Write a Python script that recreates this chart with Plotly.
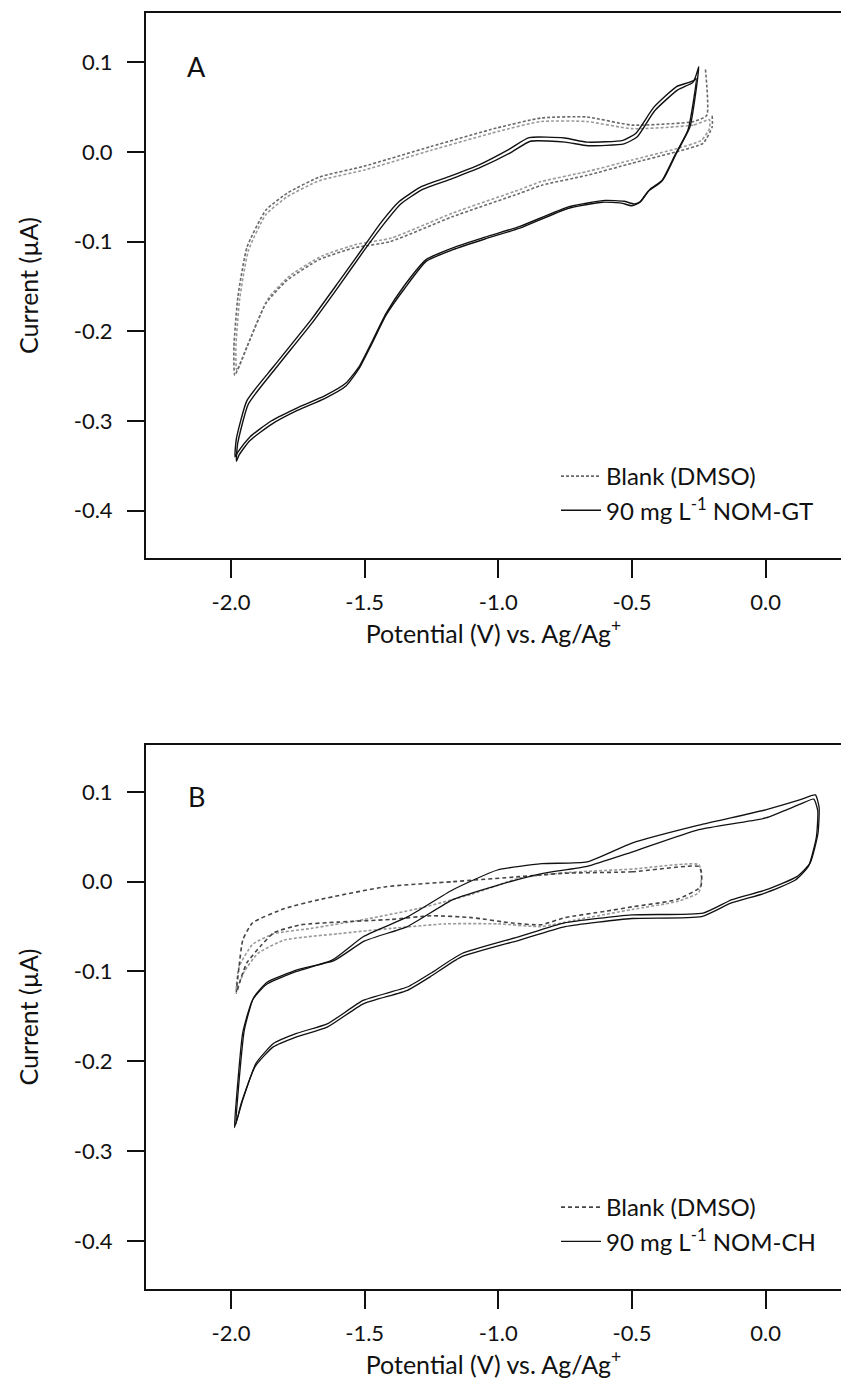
import plotly.graph_objects as go

# ---------------- data ----------------
# Panel A : NOM-GT (two cycles) and blank DMSO
A_gt_c1_V = [-0.25, -0.283, -0.333, -0.384, -0.434, -0.467, -0.49, -0.53, -0.60, -0.735, -0.919, -1.05, -1.17, -1.27,
             -1.354, -1.42, -1.47, -1.52, -1.571, -1.65, -1.75, -1.85, -1.93, -1.975, -1.985, -1.98, -1.94, -1.84,
             -1.70, -1.60, -1.504, -1.437, -1.37, -1.29, -1.18, -1.07, -0.96, -0.885, -0.752, -0.668, -0.534, -0.485,
             -0.418, -0.333, -0.268, -0.25]
A_gt_c1_I = [0.095, 0.028, -0.001, -0.031, -0.042, -0.055, -0.058, -0.055, -0.054, -0.061, -0.083, -0.095, -0.107,
             -0.12, -0.150, -0.180, -0.21, -0.239, -0.258, -0.272, -0.285, -0.30, -0.318, -0.335, -0.340, -0.320,
             -0.277, -0.239, -0.187, -0.146, -0.106, -0.078, -0.055, -0.039, -0.027, -0.014, 0.003, 0.016, 0.0156,
             0.011, 0.013, 0.021, 0.050, 0.073, 0.080, 0.095]
A_gt_c2_V = [-0.26, -0.29, -0.34, -0.39, -0.44, -0.47, -0.50, -0.54, -0.61, -0.74, -0.92, -1.05, -1.17, -1.27, -1.35,
             -1.42, -1.47, -1.52, -1.57, -1.65, -1.75, -1.85, -1.93, -1.97, -1.98, -1.975, -1.935, -1.835, -1.695,
             -1.595, -1.50, -1.43, -1.365, -1.285, -1.175, -1.065, -0.955, -0.88, -0.75, -0.665, -0.53, -0.48,
             -0.415, -0.33, -0.275, -0.26]
A_gt_c2_I = [0.082, 0.025, -0.004, -0.033, -0.044, -0.056, -0.060, -0.057, -0.056, -0.063, -0.085, -0.097, -0.109,
             -0.122, -0.152, -0.182, -0.212, -0.241, -0.261, -0.275, -0.288, -0.304, -0.322, -0.338, -0.345, -0.325,
             -0.281, -0.242, -0.190, -0.149, -0.109, -0.081, -0.058, -0.042, -0.030, -0.017, -0.001, 0.012, 0.011,
             0.007, 0.009, 0.017, 0.046, 0.069, 0.077, 0.082]

A_bl_c1_V = [-0.225, -0.22, -0.268, -0.50, -0.668, -0.837, -1.003, -1.253, -1.504, -1.67, -1.79, -1.87, -1.94, -1.974,
             -1.989, -1.986, -1.94, -1.87, -1.79, -1.67, -1.54, -1.405, -1.17, -0.919, -0.837, -0.668, -0.50, -0.333,
             -0.234, -0.20, -0.20]
A_bl_c1_I = [0.092, 0.041, 0.034, 0.030, 0.039, 0.038, 0.027, 0.006, -0.016, -0.028, -0.046, -0.065, -0.106, -0.161,
             -0.217, -0.249, -0.217, -0.169, -0.143, -0.120, -0.107, -0.100, -0.072, -0.046, -0.037, -0.026, -0.0126,
             0.0003, 0.0097, 0.028, 0.041]
A_bl_c2_V = [-0.21, -0.27, -0.50, -0.67, -0.84, -1.00, -1.25, -1.50, -1.67, -1.79, -1.87, -1.935, -1.968, -1.982,
             -1.978, -1.93, -1.86, -1.78, -1.66, -1.53, -1.40, -1.17, -0.92, -0.84, -0.67, -0.50, -0.33, -0.24, -0.21,
             -0.21]
A_bl_c2_I = [0.036, 0.030, 0.026, 0.034, 0.034, 0.023, 0.002, -0.020, -0.032, -0.050, -0.070, -0.110, -0.165, -0.220,
             -0.244, -0.210, -0.163, -0.138, -0.116, -0.103, -0.096, -0.068, -0.042, -0.033, -0.022, -0.009, 0.004,
             0.013, 0.026, 0.036]

# Panel B : NOM-CH (two cycles) and blank DMSO
B_ch_c1_V = [0.186, 0.20, 0.196, 0.167, 0.117, 0.0, -0.126, -0.234, -0.50, -0.752, -0.919, -1.136, -1.253, -1.338,
             -1.504, -1.638, -1.755, -1.84, -1.906, -1.956, -1.987, -1.98, -1.956, -1.92, -1.87, -1.755, -1.62, -1.504,
             -1.338, -1.17, -1.003, -0.837, -0.668, -0.50, -0.25, 0.0, 0.127, 0.186]
B_ch_c1_I = [0.0966, 0.083, 0.054, 0.021, 0.0056, -0.0092, -0.020, -0.035, -0.037, -0.046, -0.061, -0.080, -0.102,
             -0.117, -0.132, -0.158, -0.169, -0.180, -0.202, -0.243, -0.274, -0.243, -0.168, -0.132, -0.115, -0.100,
             -0.087, -0.061, -0.039, -0.009, 0.013, 0.020, 0.022, 0.043, 0.063, 0.080, 0.091, 0.0966]
B_ch_c2_V = [0.18, 0.195, 0.19, 0.16, 0.11, -0.005, -0.13, -0.24, -0.50, -0.75, -0.92, -1.14, -1.255, -1.34, -1.505,
             -1.64, -1.757, -1.842, -1.91, -1.962, -1.982, -1.975, -1.95, -1.915, -1.865, -1.75, -1.615, -1.50, -1.34,
             -1.17, -1.003, -0.837, -0.668, -0.50, -0.25, 0.0, 0.127, 0.18]
B_ch_c2_I = [0.092, 0.079, 0.050, 0.017, 0.0015, -0.013, -0.024, -0.039, -0.041, -0.050, -0.065, -0.084, -0.106,
             -0.121, -0.136, -0.162, -0.173, -0.184, -0.206, -0.247, -0.270, -0.240, -0.165, -0.129, -0.112, -0.098,
             -0.088, -0.066, -0.050, -0.020, -0.004, 0.009, 0.017, 0.033, 0.058, 0.071, 0.086, 0.092]

B_bl_c1_V = [-0.25, -0.50, -0.752, -0.919, -1.17, -1.42, -1.67, -1.80, -1.92, -1.956, -1.97, -1.98, -1.96, -1.94,
             -1.89, -1.84, -1.74, -1.60, -1.40, -1.25, -1.10, -0.95, -0.84, -0.75, -0.60, -0.50, -0.333, -0.243,
             -0.24, -0.25]
B_bl_c1_I = [0.017, 0.011, 0.0094, 0.0056, 0.0, -0.0056, -0.020, -0.030, -0.046, -0.065, -0.095, -0.124, -0.105,
             -0.090, -0.072, -0.057, -0.048, -0.045, -0.042, -0.038, -0.040, -0.046, -0.048, -0.040, -0.033, -0.028,
             -0.020, -0.0056, 0.010, 0.017]
B_bl_c2_V = [-0.25, -0.50, -0.75, -0.92, -1.10, -1.30, -1.50, -1.70, -1.84, -1.92, -1.97, -1.98, -1.95, -1.90, -1.80,
             -1.60, -1.40, -1.20, -1.00, -0.84, -0.70, -0.50, -0.33, -0.25, -0.24, -0.25]
B_bl_c2_I = [0.019, 0.014, 0.010, 0.004, -0.014, -0.030, -0.042, -0.052, -0.058, -0.070, -0.095, -0.120, -0.100,
             -0.080, -0.065, -0.058, -0.052, -0.047, -0.047, -0.050, -0.042, -0.031, -0.022, -0.012, 0.005, 0.019]

x_tickvals = [-2.0, -1.5, -1.0, -0.5, 0.0]
x_ticktext = ["-2.0", "-1.5", "-1.0", "-0.5", "0.0"]
y_tickvals = [-0.4, -0.3, -0.2, -0.1, 0.0, 0.1]
y_ticktext = ["-0.4", "-0.3", "-0.2", "-0.1", "0.0", "0.1"]

names_A = ["Blank (DMSO)", "90 mg L<sup>-1</sup> NOM-GT"]
names_B = ["Blank (DMSO)", "90 mg L<sup>-1</sup> NOM-CH"]

# ---------------- figure ----------------
W, H = 841, 1394
FONT = "Lato"
fig = go.Figure()

def add(x, y, xa, ya, color, width, dash, name=None, legend=None, show=False, group=None):
    fig.add_trace(go.Scatter(
        x=x, y=y, xaxis=xa, yaxis=ya, mode="lines",
        line=dict(color=color, width=width, dash=dash, shape="spline", smoothing=0.5),
        name=name, showlegend=show, legend=legend, legendgroup=group, hoverinfo="skip"))

# Panel A
add(A_bl_c2_V, A_bl_c2_I, "x", "y", "#9a9a9a", 1.6, "3px,2px")
add(A_bl_c1_V, A_bl_c1_I, "x", "y", "#6a6a6a", 1.6, "3px,2px", names_A[0], "legend", True, "a1")
add(A_gt_c2_V, A_gt_c2_I, "x", "y", "#111111", 1.4, "solid")
add(A_gt_c1_V, A_gt_c1_I, "x", "y", "#111111", 1.4, "solid", names_A[1], "legend", True, "a2")

# Panel B
add(B_bl_c2_V, B_bl_c2_I, "x2", "y2", "#9a9a9a", 1.6, "3px,2px")
add(B_bl_c1_V, B_bl_c1_I, "x2", "y2", "#444444", 1.6, "4px,3px", names_B[0], "legend2", True, "b1")
add(B_ch_c2_V, B_ch_c2_I, "x2", "y2", "#111111", 1.3, "solid")
add(B_ch_c1_V, B_ch_c1_I, "x2", "y2", "#111111", 1.3, "solid", names_B[1], "legend2", True, "b2")

xdom = [146 / W, 1.0]
ydomA = [1 - 558 / H, 1 - 13 / H]
ydomB = [1 - 1289 / H, 1 - 745 / H]

tickfont = dict(family=FONT, size=22, color="#111")
titlefont = dict(family=FONT, size=25, color="#111")

def xaxis_cfg(anchor):
    return dict(domain=xdom, anchor=anchor, range=[-2.318, 0.282], showgrid=False, zeroline=False,
                showline=True, linewidth=2, linecolor="#111", mirror=True,
                ticks="outside", ticklen=18, tickwidth=1.6, tickcolor="#111",
                tickvals=x_tickvals, ticktext=x_ticktext, tickfont=tickfont, ticklabelstandoff=6,
                title=dict(text="Potential (V) vs. Ag/Ag<sup>+</sup>", font=titlefont, standoff=6))

def yaxis_cfg(anchor, dom, rng):
    return dict(domain=dom, anchor=anchor, range=rng, showgrid=False, zeroline=False,
                showline=True, linewidth=2, linecolor="#111", mirror=False,
                ticks="outside", ticklen=17, tickwidth=1.6, tickcolor="#111",
                tickvals=y_tickvals, ticktext=y_ticktext, tickfont=tickfont, ticklabelstandoff=10,
                title=dict(text="Current (µA)", font=titlefont, standoff=28))

fig.update_layout(
    width=W, height=H, margin=dict(l=0, r=0, t=0, b=0, autoexpand=False),
    paper_bgcolor="white", plot_bgcolor="white",
    font=dict(family=FONT, color="#111"),
    xaxis=xaxis_cfg("y"), yaxis=yaxis_cfg("x", ydomA, [-0.4528, 0.155]),
    xaxis2=xaxis_cfg("y2"), yaxis2=yaxis_cfg("x2", ydomB, [-0.4536, 0.1522]),
    legend=dict(x=556 / W, y=1 - 454 / H, xanchor="left", yanchor="top", bgcolor="rgba(0,0,0,0)",
                font=dict(family=FONT, size=24, color="#111"), itemwidth=40, tracegroupgap=0),
    legend2=dict(x=556 / W, y=1 - 1185 / H, xanchor="left", yanchor="top", bgcolor="rgba(0,0,0,0)",
                 font=dict(family=FONT, size=24, color="#111"), itemwidth=40, tracegroupgap=0),
    annotations=[
        dict(text="A", x=196 / W, y=1 - 66 / H, xref="paper", yref="paper", showarrow=False,
             font=dict(family=FONT, size=27, color="#111"), xanchor="center", yanchor="middle"),
        dict(text="B", x=196 / W, y=1 - 796 / H, xref="paper", yref="paper", showarrow=False,
             font=dict(family=FONT, size=27, color="#111"), xanchor="center", yanchor="middle"),
    ],
)

fig.write_html("out.html")
